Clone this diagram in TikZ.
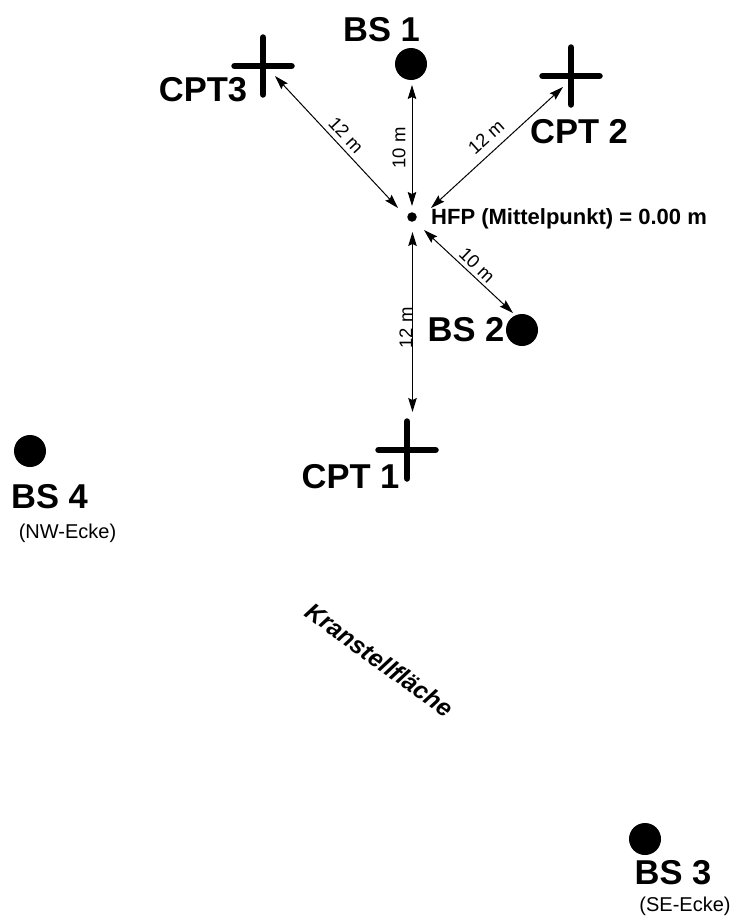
\documentclass[tikz,border=0pt]{standalone}
\usepackage{fontspec}
\setmainfont{Liberation Sans}
\usetikzlibrary{arrows.meta}
\tikzset{
  dot/.style={circle,fill=black,inner sep=0pt,minimum size=32pt},
  crossarm/.style={line width=6.5pt,line cap=round},
  biglabel/.style={inner sep=0pt,font=\fontsize{34.5}{34.5}\selectfont\bfseries},
  dim/.style={inner sep=0pt,font=\fontsize{18.5}{18.5}\selectfont},
  note/.style={inner sep=0pt,font=\fontsize{20}{20}\selectfont},
  dimline/.style={line width=1pt,{Stealth[length=14pt,width=8.5pt,inset=2pt]}-{Stealth[length=14pt,width=8.5pt,inset=2pt]}}
}
\begin{document}
\begin{tikzpicture}[x=1pt,y=-1pt]
\useasboundingbox (0,0) rectangle (731,921);
% circles
\node[dot] (bs1) at (411,64) {};
\node[dot] (bs2) at (522,330) {};
\node[dot] (bs3) at (645,839) {};
\node[dot] (bs4) at (30,451) {};
\node[circle,fill=black,inner sep=0pt,minimum size=9.5pt] (hfp) at (412,217) {};
% crosses
\coordinate (c1) at (407,450);
\coordinate (c2) at (571,76);
\coordinate (c3) at (263,66);
\foreach \c in {c1,c2,c3}{
  \draw[crossarm] ([xshift=-28.5pt]\c) -- ([xshift=28.5pt]\c);
  \draw[crossarm] ([yshift=-28.5pt]\c) -- ([yshift=28.5pt]\c);
}
% labels
\node[biglabel] (tbs1) at (381.5,30) {BS 1};
\node[biglabel] (tbs2) at (466,330) {BS 2};
\node[biglabel] (tbs3) at (673,873) {BS 3};
\node[biglabel] (tbs4) at (49.5,497) {BS 4};
\node[biglabel] (tc1) at (350.5,477) {CPT 1};
\node[biglabel] (tc2) at (579,132) {CPT 2};
\node[biglabel] (tc3) at (203,90) {CPT3};
\node[note] (nw) at (67.5,533) {(NW-Ecke)};
\node[note] (se) at (685,906) {(SE-Ecke)};
\node[inner sep=0pt,font=\fontsize{22}{22}\selectfont\bfseries] (tm) at (569,219) {HFP (Mittelpunkt) = 0.00 m};
\node[inner sep=0pt,rotate=-36,font=\fontsize{24.5}{24.5}\selectfont\bfseries\itshape] (kf) at (380,660) {Kranstellfläche};
% connector ends
\coordinate (a1s) at (412,206); \coordinate (a1e) at (412,85);
\coordinate (a2s) at (398,208); \coordinate (a2e) at (275,76);
\coordinate (a3s) at (431,208); \coordinate (a3e) at (563,87);
\coordinate (a4s) at (424,230); \coordinate (a4e) at (513,313);
\coordinate (a5s) at (412.5,232); \coordinate (a5e) at (412.5,412);
\draw[dimline] (a1s) -- (a1e);
\draw[dimline] (a2s) -- (a2e);
\draw[dimline] (a3s) -- (a3e);
\draw[dimline] (a4s) -- (a4e);
\draw[dimline] (a5s) -- (a5e);
% dimension labels
\node[dim,rotate=90] (d1) at (399,148) {10 m};
\node[dim,rotate=-47] (d2) at (346,135) {12 m};
\node[dim,rotate=42] (d3) at (486,137) {12 m};
\node[dim,rotate=-44] (d4) at (477,265) {10 m};
\node[dim,rotate=90] (d5) at (406,328) {12 m};
\end{tikzpicture}
\end{document}
